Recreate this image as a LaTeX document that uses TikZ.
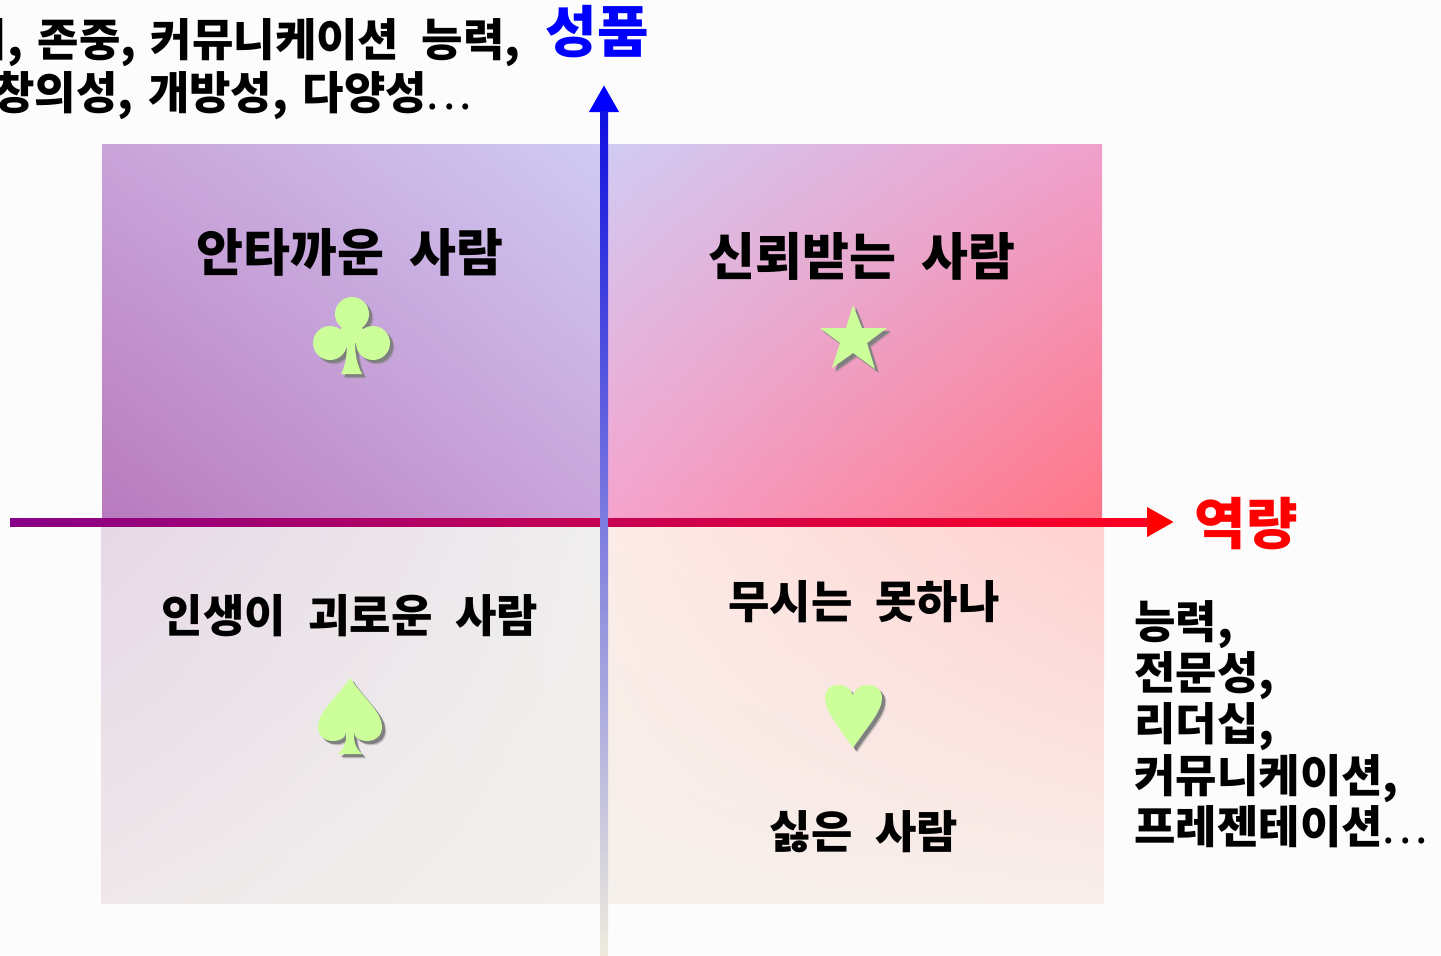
\documentclass[tikz,border=0pt]{standalone}
\usepackage{fontspec}
\setmainfont{Noto Sans CJK KR}[WordSpace=2.2]
\usetikzlibrary{arrows.meta,shadings,shadows}
\definecolor{bgGray}{HTML}{FCFCFC}
\definecolor{suitGreen}{HTML}{CCFF99}
\definecolor{aLL}{HTML}{B87ABD}
\definecolor{aUL}{HTML}{C9A3D9}
\definecolor{aUR}{HTML}{CFCBF3}
\definecolor{aLR}{HTML}{C9A5DB}
\definecolor{bLL}{HTML}{F5A3CD}
\definecolor{bUL}{HTML}{D0CBF3}
\definecolor{bUR}{HTML}{F0A0CC}
\definecolor{bLR}{HTML}{FF7585}
\definecolor{cLL}{HTML}{EEE8EA}
\definecolor{cUL}{HTML}{E6D8E6}
\definecolor{cUR}{HTML}{EFEEEE}
\definecolor{cLR}{HTML}{F2F0EC}
\definecolor{dLL}{HTML}{F5F0EB}
\definecolor{dUL}{HTML}{FCEBE6}
\definecolor{dUR}{HTML}{FFD0D0}
\definecolor{dLR}{HTML}{F8EEEA}
\definecolor{xLeft}{HTML}{880088}
\definecolor{xRight}{HTML}{FF0022}
\definecolor{yLow}{HTML}{EEEBDD}
\definecolor{yMid}{HTML}{A8A8D8}
\definecolor{yTop}{HTML}{1010E0}
\newcommand{\tc}{,\kern-4pt\ }
\newcommand{\tdots}{{\mdseries.\kern2pt.\kern2pt.}}
\tikzset{/quad/label/.style={inner sep=0, font=\fontsize{22.5}{26}\selectfont\bfseries, text=black}}
\tikzset{/quad/big/.style={inner sep=0, font=\fontsize{25.5}{29}\selectfont\bfseries, text=black}}
\tikzset{/side/text/.style={inner sep=0, anchor=west, font=\fontsize{22.5}{25.6}\selectfont\bfseries, align=left}}
\tikzset{/axis/name/.style={inner sep=0, font=\fontsize{28}{32}\selectfont\bfseries}}
\tikzset{/axis/arrow/.style={line width=4pt, -{Triangle[length=13.5pt,width=14pt]}}}
\tikzset{/suit/shape/.style={fill=suitGreen,
	drop shadow={shadow xshift=2.2pt, shadow yshift=-2.2pt, opacity=.35},
	drop shadow={shadow xshift=1.6pt, shadow yshift=-1.6pt, opacity=1}
}}
\begin{document}
\begin{tikzpicture}[x=0.5pt, y=-0.5pt]
	\useasboundingbox (0,0) rectangle (1441,955);
	\fill[bgGray] (0,0) rectangle (1441,955);
	\path[shading=bilinear interpolation, lower left=aLL, upper left=aUL, upper right=aUR, lower right=aLR] (102,144) rectangle (604,522);
	\path[shading=bilinear interpolation, lower left=bLL, upper left=bUL, upper right=bUR, lower right=bLR] (604,144) rectangle (1102,522);
	\path[shading=bilinear interpolation, lower left=cLL, upper left=cUL, upper right=cUR, lower right=cLR] (101,522) rectangle (604,903);
	\path[shading=bilinear interpolation, lower left=dLL, upper left=dUL, upper right=dUR, lower right=dLR] (604,522) rectangle (1104,903);
	\coordinate (xFrom) at (10,522);
	\coordinate (xNeck) at (1148,522);
	\coordinate (xTo) at (1174,522);
	\coordinate (yFrom) at (604,955);
	\coordinate (yNeck) at (604,111);
	\coordinate (yTo) at (604,85);
	\path[/axis/arrow, draw=red] (xFrom) -- (xTo);
	\shade[left color=xLeft, right color=xRight] ([yshift=-2pt]xFrom) rectangle ([yshift=2pt]xNeck);
	\path[/axis/arrow, draw=blue] (yFrom) -- (yTo);
	\shade[bottom color=yLow, middle color=yMid, top color=yTop] ([xshift=-2pt]yFrom) rectangle ([xshift=2pt]yNeck);
	\path (597,32) node[/axis/name, text=blue] (Quality) {성품};
	\path (1246,524) node[/axis/name, text=red] (Ability) {역량};
	\path (-76,43) node[/side/text] (QualityA) {배려\tc 존중\tc 커뮤니케이션 능력,};
	\path (-7,96) node[/side/text] (QualityB) {창의성\tc 개방성\tc 다양성\tdots};
	\path (1134,724) node[/side/text] (AbilityList) {능력,\\전문성,\\리더십,\\커뮤니케이션,\\프레젠테이션\tdots};
	\path (350,252) node[/quad/big] (Sorry) {안타까운 사람};
	\path (862,256) node[/quad/big] (Trusted) {신뢰받는 사람};
	\path (350,616) node[/quad/label] (Hard) {인생이 괴로운 사람};
	\path (864,602) node[/quad/label] (Ignore) {무시는 못하나};
	\path (864,832) node[/quad/label] (Hate) {싫은 사람};
	\path[/suit/shape] (352,314) circle[radius=17] (330,343) circle[radius=17] (373,343) circle[radius=17]
		(352,314) -- (373,343) -- (330,343) -- cycle
		(347,342) -- (355,342) .. controls (355,358) and (358,366) .. (362,374) -- (341,374) .. controls (345,366) and (347,358) .. (347,342) -- cycle;
	\path[/suit/shape] (853,305) -- (862,328) -- (887,328) -- (867,343) -- (875,369) -- (853,353) -- (832,368) -- (840,343) -- (820,328) -- (846,328) -- cycle;
	\path[/suit/shape] (350,678) .. controls (335,700) and (318,712) .. (318,727) .. controls (318,736) and (325,741) .. (332,741) .. controls (340,741) and (346,738) .. (346,732) .. controls (347,745) and (342,750) .. (338,754) -- (362,754) .. controls (358,750) and (353,745) .. (354,732) .. controls (354,738) and (360,741) .. (368,741) .. controls (375,741) and (382,736) .. (382,727) .. controls (382,712) and (365,700) .. (350,678) -- cycle;
	\path[/suit/shape] (853,748) .. controls (840,728) and (825,712) .. (825,698) .. controls (825,690) and (830,685) .. (838,685) .. controls (846,685) and (851,689) .. (853,695) .. controls (855,689) and (860,685) .. (868,685) .. controls (876,685) and (882,690) .. (882,698) .. controls (882,712) and (866,728) .. (853,748) -- cycle;
\end{tikzpicture}
\end{document}
